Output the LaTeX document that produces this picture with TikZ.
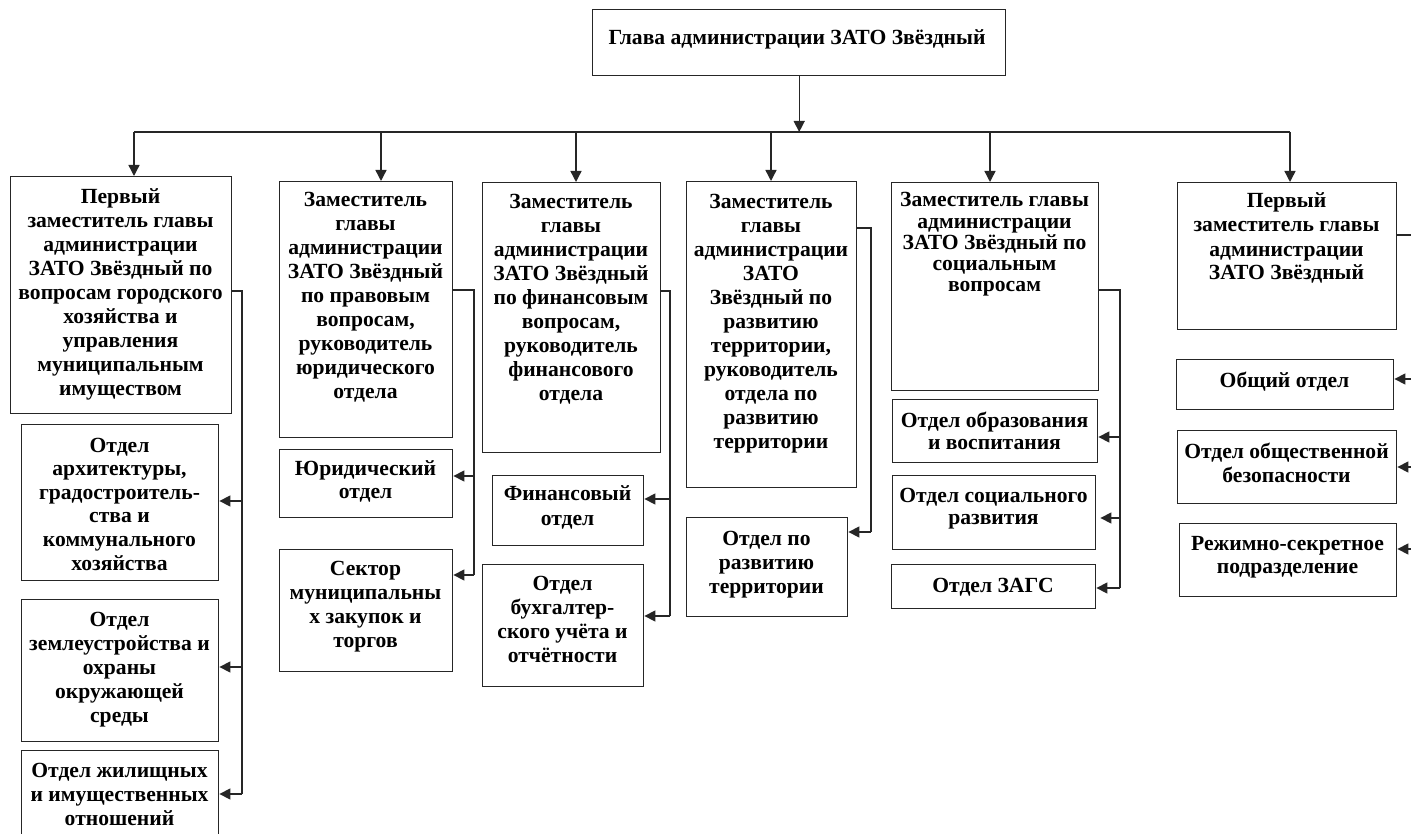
\documentclass[tikz,border=0pt]{standalone}
\usepackage{fontspec}
\setmainfont{Liberation Serif}
\usetikzlibrary{arrows.meta}
\tikzset{
  box/.style={draw=black!85, line width=1.4pt, inner sep=0pt, anchor=north west},
  lbl/.style={inner sep=0pt, anchor=base, align=center, font=\bfseries\fontsize{21.6}{24}\selectfont},
  lbltight/.style={lbl, font=\bfseries\fontsize{21.6}{22}\selectfont},
  wire/.style={draw=black!85, line width=1.4pt},
  arr/.style={wire, -{Triangle[length=11pt,width=11pt]}},
}
\begin{document}
\begin{tikzpicture}[x=1pt,y=-1pt]
\useasboundingbox (0,0) rectangle (1411,834);
% boxes
\node[box, minimum width=413pt, minimum height=66pt] (top) at (592,9) {};
\node[box, minimum width=221pt, minimum height=237pt] (b1) at (10,176) {};
\node[box, minimum width=173pt, minimum height=256pt] (b2) at (279,181) {};
\node[box, minimum width=178pt, minimum height=270pt] (b3) at (482,182) {};
\node[box, minimum width=170pt, minimum height=306pt] (b4) at (686,181) {};
\node[box, minimum width=207pt, minimum height=208pt] (b5) at (891,182) {};
\node[box, minimum width=219pt, minimum height=147pt] (b6) at (1177,182) {};
\node[box, minimum width=197pt, minimum height=156pt] (a1) at (21,424) {};
\node[box, minimum width=197pt, minimum height=142pt] (a2) at (21,599) {};
\node[box, minimum width=197pt, minimum height=88pt] (a3) at (21,750) {};
\node[box, minimum width=173pt, minimum height=68pt] (j1) at (279,449) {};
\node[box, minimum width=173pt, minimum height=122pt] (j2) at (279,549) {};
\node[box, minimum width=151pt, minimum height=70pt] (f1) at (492,475) {};
\node[box, minimum width=161pt, minimum height=122pt] (f2) at (482,564) {};
\node[box, minimum width=161pt, minimum height=99pt] (d1) at (686,517) {};
\node[box, minimum width=205pt, minimum height=63pt] (e1) at (892,399) {};
\node[box, minimum width=203pt, minimum height=74pt] (e2) at (892,475) {};
\node[box, minimum width=204pt, minimum height=44pt] (e3) at (891,564) {};
\node[box, minimum width=217pt, minimum height=50pt] (g1) at (1176,359) {};
\node[box, minimum width=219pt, minimum height=73pt] (g2) at (1177,430) {};
\node[box, minimum width=217pt, minimum height=73pt] (g3) at (1179,523) {};
% texts (anchor = baseline of last line)
\node[lbl] (ttop) at (797,45) {Глава администрации ЗАТО Звёздный};
\node[lbl] (tb1) at (120.5,395) {Первый\\заместитель главы\\администрации\\ЗАТО Звёздный по\\вопросам городского\\хозяйства и\\управления\\муниципальным\\имуществом};
\node[lbl] (tb2) at (365.5,398) {Заместитель\\главы\\администрации\\ЗАТО Звёздный\\по правовым\\вопросам,\\руководитель\\юридического\\отдела};
\node[lbl] (tb3) at (571,400) {Заместитель\\главы\\администрации\\ЗАТО Звёздный\\по финансовым\\вопросам,\\руководитель\\финансового\\отдела};
\node[lbl] (tb4) at (771,448) {Заместитель\\главы\\администрации\\ЗАТО\\Звёздный по\\развитию\\территории,\\руководитель\\отдела по\\развитию\\территории};
\node[lbl, font=\bfseries\fontsize{21.6}{21.3}\selectfont] (tb5) at (994.5,292) {Заместитель главы\\администрации\\ЗАТО Звёздный по\\социальным\\вопросам};
\node[lbl] (tb6) at (1286.5,280) {Первый\\заместитель главы\\администрации\\ЗАТО Звёздный};
\node[lbl, font=\bfseries\fontsize{21.6}{23.6}\selectfont] (ta1) at (119.5,570) {Отдел\\архитектуры,\\градостроитель-\\ства и\\коммунального\\хозяйства};
\node[lbl] (ta2) at (119.5,722) {Отдел\\землеустройства и\\охраны\\окружающей\\среды};
\node[lbl] (ta3) at (119.5,825) {Отдел жилищных\\и имущественных\\отношений};
\node[lbl, font=\bfseries\fontsize{21.6}{23}\selectfont] (tj1) at (365.5,498) {Юридический\\отдел};
\node[lbl] (tj2) at (365.5,647) {Сектор\\муниципальны\\х закупок и\\торгов};
\node[lbl, font=\bfseries\fontsize{21.6}{25}\selectfont] (tf1) at (567.5,525) {Финансовый\\отдел};
\node[lbl] (tf2) at (562.5,662) {Отдел\\бухгалтер-\\ского учёта и\\отчётности};
\node[lbl] (td1) at (766.5,593) {Отдел по\\развитию\\территории};
\node[lbltight] (te1) at (994.5,449) {Отдел образования\\и воспитания};
\node[lbltight] (te2) at (993.5,524) {Отдел социального\\развития};
\node[lbl] (te3) at (993,592) {Отдел ЗАГС};
\node[lbl] (tg1) at (1284.5,387) {Общий отдел};
\node[lbl] (tg2) at (1286.5,482) {Отдел общественной\\безопасности};
\node[lbl, font=\bfseries\fontsize{21.6}{23}\selectfont] (tg3) at (1287.5,573) {Режимно-секретное\\подразделение};
% main bus
\coordinate (busL) at (134,132);
\coordinate (busR) at (1290,132);
\draw[wire] (busL) -- (busR);
\draw[arr] (top.south) -- (top.south |- busL);
\coordinate (p1) at (134,132);
\coordinate (p2) at (381,132);
\coordinate (p3) at (576,132);
\coordinate (p4) at (771,132);
\coordinate (p5) at (990,132);
\coordinate (p6) at (1290,132);
\draw[arr] (p1) -- (p1 |- b1.north);
\draw[arr] (p2) -- (p2 |- b2.north);
\draw[arr] (p3) -- (p3 |- b3.north);
\draw[arr] (p4) -- (p4 |- b4.north);
\draw[arr] (p5) -- (p5 |- b5.north);
\draw[arr] (p6) -- (p6 |- b6.north);
% branch 1
\coordinate (k1) at (242,291);
\coordinate (k1a) at (242,501);
\coordinate (k1b) at (242,667);
\coordinate (k1c) at (242,794);
\draw[wire] (k1 -| b1.east) -- (k1) -- (k1c);
\draw[arr] (k1a) -- (k1a -| a1.east);
\draw[arr] (k1b) -- (k1b -| a2.east);
\draw[arr] (k1c) -- (k1c -| a3.east);
% branch 2
\coordinate (k2) at (474,290);
\coordinate (k2a) at (474,476);
\coordinate (k2b) at (474,575);
\draw[wire] (k2 -| b2.east) -- (k2) -- (k2b);
\draw[arr] (k2a) -- (k2a -| j1.east);
\draw[arr] (k2b) -- (k2b -| j2.east);
% branch 3
\coordinate (k3) at (670,291);
\coordinate (k3a) at (670,499);
\coordinate (k3b) at (670,616);
\draw[wire] (k3 -| b3.east) -- (k3) -- (k3b);
\draw[arr] (k3a) -- (k3a -| f1.east);
\draw[arr] (k3b) -- (k3b -| f2.east);
% branch 4
\coordinate (k4) at (871,228);
\coordinate (k4a) at (871,532);
\draw[wire] (k4 -| b4.east) -- (k4) -- (k4a);
\draw[arr] (k4a) -- (k4a -| d1.east);
% branch 5
\coordinate (k5) at (1120,290);
\coordinate (k5a) at (1120,437);
\coordinate (k5b) at (1120,518);
\coordinate (k5c) at (1120,588);
\draw[wire] (k5 -| b5.east) -- (k5) -- (k5c);
\draw[arr] (k5a) -- (k5a -| e1.east);
\draw[arr, shorten >=4pt] (k5b) -- (k5b -| e2.east);
\draw[arr] (k5c) -- (k5c -| e3.east);
% branch 6
\coordinate (k6) at (1414,235);
\coordinate (k6a) at (1414,379);
\coordinate (k6b) at (1414,467);
\coordinate (k6c) at (1414,549);
\draw[wire] (k6 -| b6.east) -- (k6) -- (k6c);
\draw[arr] (k6a) -- (k6a -| g1.east);
\draw[arr] (k6b) -- (k6b -| g2.east);
\draw[arr] (k6c) -- (k6c -| g3.east);
\end{tikzpicture}
\end{document}
